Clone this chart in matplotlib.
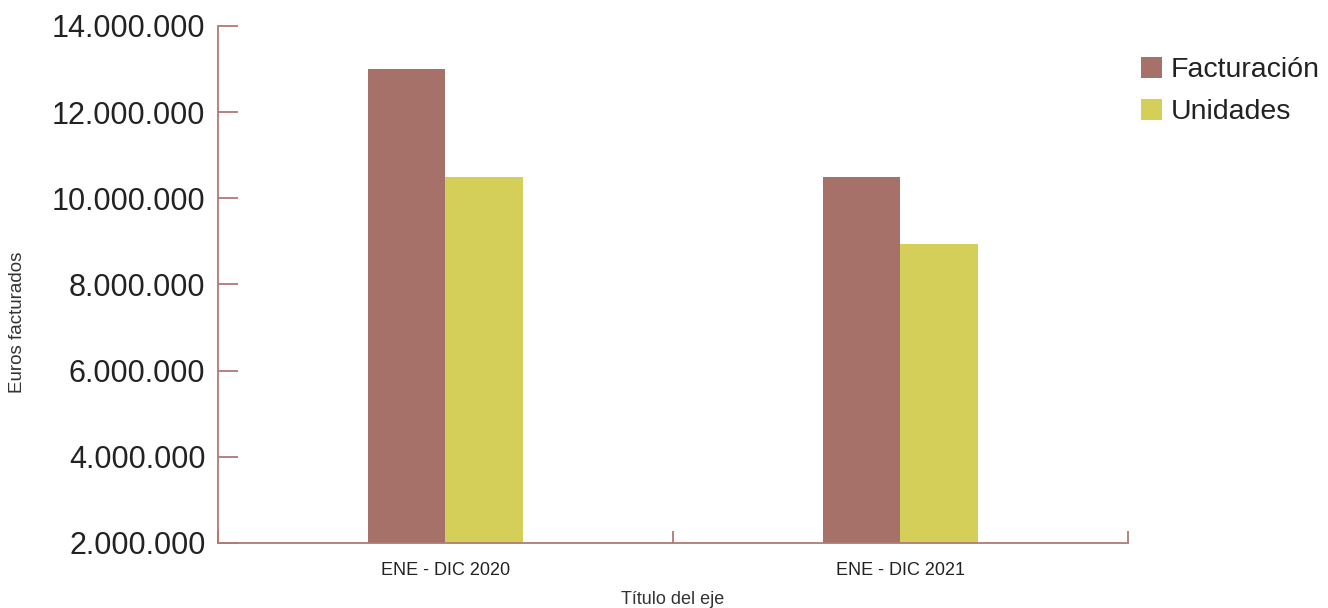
import matplotlib.pyplot as plt
import numpy as np
from matplotlib.ticker import FuncFormatter

plt.rcParams["font.family"] = ["Liberation Sans", "DejaVu Sans"]

categorias = ["ENE - DIC 2020", "ENE - DIC 2021"]
facturacion = [13000000, 10500000]
unidades = [10500000, 8950000]

col_fact = "#a57169"
col_unid = "#d4cf58"
col_eje = "#b07a75"

fig = plt.figure(figsize=(13.28, 6.08), dpi=100)
ax = fig.add_axes([218 / 1328, 1 - 543 / 608, 910 / 1328, 517 / 608])

x = np.arange(len(categorias))
w = 0.17
ax.bar(x - w / 2, facturacion, w, color=col_fact, label="Facturación")
ax.bar(x + w / 2, unidades, w, color=col_unid, label="Unidades")

ax.set_xlim(-0.5, len(categorias) - 0.5)
ax.set_ylim(2000000, 14000000)
ax.set_yticks(np.arange(2000000, 14000001, 2000000))
ax.yaxis.set_major_formatter(FuncFormatter(lambda v, p: f"{int(v):,}".replace(",", ".")))

ax.set_xticks(x)
ax.set_xticklabels(categorias, fontsize=13)
ax.set_xticks(np.arange(-0.5, len(categorias)), minor=True)

for s in ["top", "right"]:
    ax.spines[s].set_visible(False)
for s in ["left", "bottom"]:
    ax.spines[s].set_color(col_eje)
    ax.spines[s].set_linewidth(1.3)

ax.tick_params(axis="y", direction="in", length=14.4, width=1.3, color=col_eje,
               labelsize=22, pad=9, labelcolor="#222222")
ax.tick_params(axis="x", which="major", length=0, pad=14, labelcolor="#222222")
ax.tick_params(axis="x", which="minor", direction="in", length=9, width=1.3, color=col_eje)

ax.set_xlabel("Título del eje", fontsize=13, labelpad=8, color="#333333")
fig.text(18 / 1328, 1 - 322 / 608, "Euros facturados", rotation=90, fontsize=13.5,
         ha="center", va="center", color="#333333")

ax.legend(loc="upper left", bbox_to_anchor=(1141 / 1328, 1 - 57 / 608),
          bbox_transform=fig.transFigure, frameon=False, fontsize=20.5,
          handlelength=0.75, handleheight=0.75, handletextpad=0.3, labelspacing=0.55,
          borderaxespad=0, borderpad=0, labelcolor="#222222")

fig.savefig("out.png", dpi=100)
